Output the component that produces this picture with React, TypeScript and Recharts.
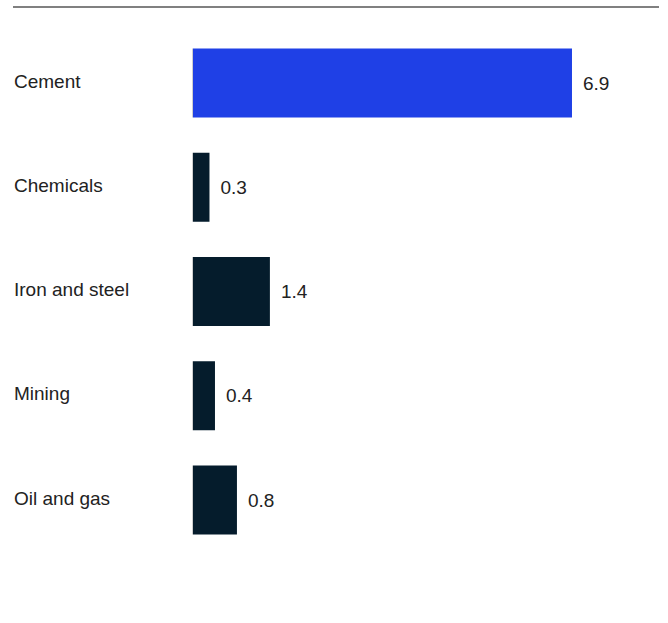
import { BarChart, Bar, XAxis, YAxis, LabelList, Cell } from 'recharts'

const categories = ['Cement', 'Chemicals', 'Iron and steel', 'Mining', 'Oil and gas']
const values = [6.9, 0.3, 1.4, 0.4, 0.8]
const highlight = 'Cement'

const data = categories.map((name, i) => ({ name, value: values[i] }))

const FONT = '"Liberation Sans", Arial, sans-serif'

// bar plus the thin baseline segment, so the baseline stops at first/last bar edges
function BarWithBase(props: any) {
  const { x, y, width, height, fill, index, background } = props
  const last = data.length - 1
  const bandTop = background ? background.y : y - 17
  const bandBottom = background ? background.y + background.height : y + height + 17
  const top = index === 0 ? y : bandTop
  const bottom = index === last ? y + height : bandBottom
  return (
    <g>
      <rect x={x} y={y} width={width} height={height} fill={fill} />
      <line x1={x - 0.5} x2={x - 0.5} y1={top} y2={bottom} stroke="#cfcfcf" strokeWidth={1} />
    </g>
  )
}

function CategoryTick(props: any) {
  const { y, payload } = props
  return (
    <text x={14} y={y} dy={5} fill="#222" fontSize={19} fontFamily={FONT} textAnchor="start">
      {payload.value}
    </text>
  )
}

export default function App() {
  return (
    <div style={{ position: 'absolute', left: 0, top: 0, width: 668, height: 623, background: '#fff' }}>
      <svg width={668} height={623} style={{ position: 'absolute', left: 0, top: 0 }}>
        <line x1={13} x2={659} y1={7} y2={7} stroke="#808080" strokeWidth={2} />
      </svg>
      <div style={{ position: 'absolute', left: 0, top: 0 }}>
        <BarChart
          width={668}
          height={623}
          data={data}
          layout="vertical"
          margin={{ top: 30.5, right: 35.6, bottom: 71.25, left: 0 }}
        >
          <XAxis type="number" domain={[0, 8]} hide />
          <YAxis
            type="category"
            dataKey="name"
            width={193}
            axisLine={false}
            tickLine={false}
            tick={<CategoryTick />}
          />
          <Bar dataKey="value" barSize={69} isAnimationActive={false} shape={<BarWithBase />}>
            {data.map((d) => (
              <Cell key={d.name} fill={d.name === highlight ? '#1f40e6' : '#051c2c'} />
            ))}
            <LabelList
              dataKey="value"
              position="right"
              offset={11}
              fill="#222"
              fontSize={19}
              fontFamily={FONT}
              formatter={(v: any) => Number(v).toFixed(1)}
            />
          </Bar>
        </BarChart>
      </div>
    </div>
  )
}
